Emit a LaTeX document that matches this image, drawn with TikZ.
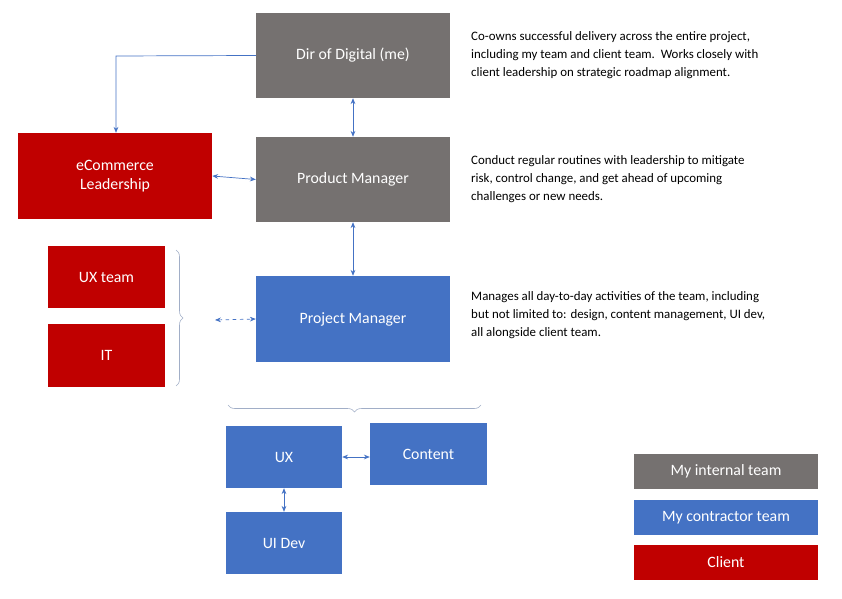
\documentclass[tikz,border=0pt]{standalone}
\usepackage{fontspec}
\setmainfont{Carlito}
\usetikzlibrary{arrows.meta,decorations.pathreplacing}
\definecolor{gr}{HTML}{757170}
\definecolor{bl}{HTML}{4472C4}
\definecolor{rd}{HTML}{C00000}
\begin{document}
\begin{tikzpicture}[x=0.03cm,y=-0.03cm,
 box/.style={draw=none,text=white,font=\fontsize{13.5}{16}\selectfont,align=center,inner sep=0},
 con/.style={draw=bl,line width=0.6pt,{Stealth[length=5pt,width=4pt]}-{Stealth[length=5pt,width=4pt]}},
 desc/.style={anchor=north west,align=left,font=\fontsize{11}{15.3}\selectfont,inner sep=0},
 br/.style={draw=bl!50!gray!60,line width=0.5pt}]
\useasboundingbox (0,0) rectangle (842,599);
\newcommand{\bx}[6]{\fill[#2] (#3,#4) rectangle (#5,#6); \node[box] (#1) at ({(#3+#5)/2},{(#4+#6)/2}) {};}
\fill[gr] (256,13) rectangle (450,98); \node[box,minimum width=5.82cm,minimum height=2.55cm] (dir) at (353,55.5) {Dir of Digital (me)};
\fill[gr] (256,137) rectangle (450,222); \node[box,minimum width=5.82cm,minimum height=2.55cm] (pm) at (353,179.5) {Product Manager};
\fill[rd] (18,133) rectangle (212,219); \node[box,minimum width=5.82cm,minimum height=2.58cm] (ec) at (115,176) {eCommerce\\Leadership};
\fill[rd] (48,246) rectangle (165,308); \node[box,minimum width=3.51cm,minimum height=1.86cm] (uxt) at (106.5,277) {UX team};
\fill[rd] (48,324) rectangle (165,387); \node[box,minimum width=3.51cm,minimum height=1.89cm] (it) at (106.5,355.5) {IT};
\fill[bl] (256,276) rectangle (450,362); \node[box,minimum width=5.82cm,minimum height=2.58cm] (prj) at (353,319) {Project Manager};
\fill[bl] (226,426) rectangle (342,488); \node[box,minimum width=3.48cm,minimum height=1.86cm] (ux) at (284,457) {UX};
\fill[bl] (370,423) rectangle (487,485); \node[box,minimum width=3.51cm,minimum height=1.86cm] (ct) at (428.5,454) {Content};
\fill[bl] (226,512) rectangle (342,574); \node[box,minimum width=3.48cm,minimum height=1.86cm] (uid) at (284,543) {UI Dev};
\fill[gr] (634,454) rectangle (818,489); \node[box] (l1) at (726,471.5) {My internal team};
\fill[bl] (634,500) rectangle (818,535); \node[box] (l2) at (726,517.5) {My contractor team};
\fill[rd] (634,545) rectangle (818,580); \node[box] (l3) at (726,562.5) {Client};
% connectors
\coordinate (k) at (116,56);
\draw[draw=bl,line width=0.6pt,-{Stealth[length=5pt,width=4pt]}] (dir.west) -- (k) -- (ec.north -| k);
\draw[con] (dir.south) -- (pm.north);
\draw[con] (pm.west) -- (ec.east);
\draw[con] (pm.south) -- (prj.north);
\draw[con] (ux.east) -- (ux.east -| ct.west);
\draw[con] (ux.south) -- (uid.north);
\coordinate (bt) at (215,320);
\draw[con,dashed] (bt) -- (prj.west);
\draw[br,decorate,decoration={brace,amplitude=6pt}] (176,250) -- (176,386);
\draw[br,decorate,decoration={brace,amplitude=6pt}] (481,405) -- (228,405);
\node[desc] (t1) at (471,31) {Co-owns successful delivery across the entire project,\\including my team and client team.\ \ Works closely with\\client leadership on strategic roadmap alignment.};
\node[desc] (t2) at (471,155) {Conduct regular routines with leadership to mitigate\\risk, control change, and get ahead of upcoming\\challenges or new needs.};
\node[desc] (t3) at (471,291) {Manages all day-to-day activities of the team, including\\but not limited to: design, content management, UI dev,\\all alongside client team.};
\end{tikzpicture}
\end{document}
